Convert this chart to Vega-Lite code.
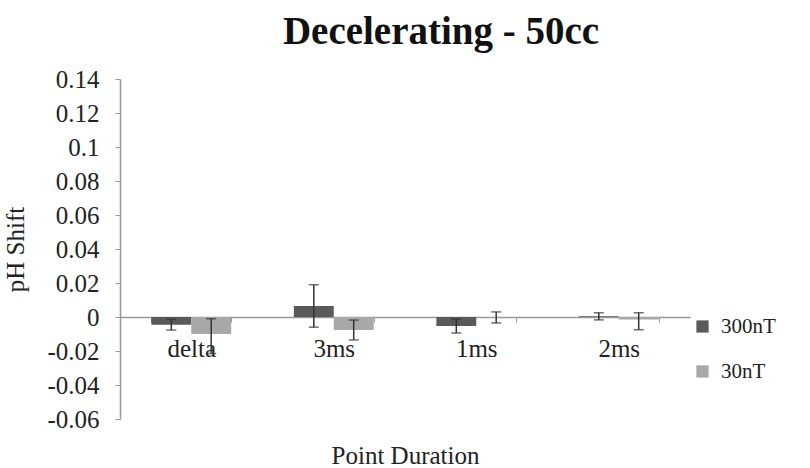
{
  "$schema": "https://vega.github.io/schema/vega-lite/v6.json",
  "autosize": {"type": "none"},
  "padding": {"left": 120, "top": 79, "right": 120, "bottom": 49},
  "width": 570,
  "height": 340,
  "background": "white",
  "title": {
    "text": "Decelerating - 50cc",
    "font": "Liberation Serif",
    "fontSize": 39,
    "fontWeight": "bold",
    "color": "#111",
    "anchor": "middle",
    "dx": 36,
    "offset": 15
  },
  "data": {
    "values": [
      {"cat": "delta", "series": "300nT", "value": -0.0045, "lo": -0.0077, "hi": -0.0013},
      {"cat": "delta", "series": "30nT", "value": -0.0100, "lo": -0.0215, "hi": -0.0010},
      {"cat": "3ms", "series": "300nT", "value": 0.0065, "lo": -0.0060, "hi": 0.0190},
      {"cat": "3ms", "series": "30nT", "value": -0.0076, "lo": -0.0135, "hi": -0.0018},
      {"cat": "1ms", "series": "300nT", "value": -0.0053, "lo": -0.0094, "hi": -0.0012},
      {"cat": "1ms", "series": "30nT", "value": -0.0002, "lo": -0.0035, "hi": 0.0030},
      {"cat": "2ms", "series": "300nT", "value": 0.0005, "lo": -0.0017, "hi": 0.0025},
      {"cat": "2ms", "series": "30nT", "value": -0.0015, "lo": -0.0075, "hi": 0.0025}
    ]
  },
  "encoding": {
    "x": {
      "field": "cat",
      "type": "nominal",
      "sort": ["delta", "3ms", "1ms", "2ms"],
      "scale": {"paddingInner": 0.44, "paddingOuter": 0.22},
      "axis": {
        "title": "Point Duration",
        "titleFont": "Liberation Serif",
        "titleFontSize": 25,
        "titleFontWeight": "normal",
        "titleColor": "#222",
        "titlePadding": 82,
        "labelFont": "Liberation Serif",
        "labelFontSize": 25,
        "labelColor": "#222",
        "labelAngle": 0,
        "labelPadding": 14,
        "labelOverlap": false,
        "offset": -102,
        "domainColor": "#999",
        "domainWidth": 1.5,
        "tickColor": "#999",
        "tickSize": 5,
        "tickBand": "extent"
      }
    },
    "xOffset": {
      "field": "series",
      "type": "nominal",
      "sort": ["300nT", "30nT"],
      "scale": {"domain": ["300nT", "30nT"], "paddingInner": 0, "paddingOuter": 0}
    }
  },
  "layer": [
    {
      "mark": {"type": "bar"},
      "encoding": {
        "y": {
          "field": "value",
          "type": "quantitative",
          "scale": {"domain": [-0.06, 0.14], "nice": false, "zero": false},
          "axis": {
            "title": "pH Shift",
            "titleFont": "Liberation Serif",
            "titleFontSize": 25,
            "titleFontWeight": "normal",
            "titleColor": "#222",
            "titlePadding": 18,
            "labelFont": "Liberation Serif",
            "labelFontSize": 25,
            "labelColor": "#222",
            "labelPadding": 16,
            "labelOverlap": false,
            "labelBound": false,
            "labelFlush": false,
            "values": [-0.06, -0.04, -0.02, 0, 0.02, 0.04, 0.06, 0.08, 0.1, 0.12, 0.14],
            "labelExpr": "replace(format(datum.value, '.2~f'), '\u2212', '-')",
            "grid": false,
            "domainColor": "#999",
            "domainWidth": 1.5,
            "tickColor": "#999",
            "tickSize": 5
          }
        },
        "color": {
          "field": "series",
          "type": "nominal",
          "scale": {"domain": ["300nT", "30nT"], "range": ["#5a5a5a", "#a8a8a8"]},
          "legend": {
            "title": null,
            "orient": "none",
            "legendX": 572,
            "legendY": 237,
            "labelFont": "Liberation Serif",
            "labelFontSize": 21,
            "labelColor": "#222",
            "symbolType": "square",
            "symbolSize": 150,
            "symbolStrokeWidth": 0,
            "rowPadding": 23,
            "labelOffset": 8
          }
        }
      }
    },
    {
      "mark": {"type": "rule", "color": "#333", "strokeWidth": 1.5},
      "encoding": {
        "y": {
          "field": "lo",
          "type": "quantitative",
          "axis": {
            "title": "pH Shift",
            "titleFont": "Liberation Serif",
            "titleFontSize": 25,
            "titleFontWeight": "normal",
            "titleColor": "#222",
            "titlePadding": 18,
            "labelFont": "Liberation Serif",
            "labelFontSize": 25,
            "labelColor": "#222",
            "labelPadding": 16,
            "labelOverlap": false,
            "labelBound": false,
            "labelFlush": false,
            "values": [-0.06, -0.04, -0.02, 0, 0.02, 0.04, 0.06, 0.08, 0.1, 0.12, 0.14],
            "labelExpr": "replace(format(datum.value, '.2~f'), '\u2212', '-')",
            "grid": false,
            "domainColor": "#999",
            "domainWidth": 1.5,
            "tickColor": "#999",
            "tickSize": 5
          }
        },
        "y2": {"field": "hi"}
      }
    },
    {
      "mark": {"type": "tick", "color": "#333", "thickness": 1.5, "size": 10},
      "encoding": {
        "y": {
          "field": "lo",
          "type": "quantitative",
          "axis": {
            "title": "pH Shift",
            "titleFont": "Liberation Serif",
            "titleFontSize": 25,
            "titleFontWeight": "normal",
            "titleColor": "#222",
            "titlePadding": 18,
            "labelFont": "Liberation Serif",
            "labelFontSize": 25,
            "labelColor": "#222",
            "labelPadding": 16,
            "labelOverlap": false,
            "labelBound": false,
            "labelFlush": false,
            "values": [-0.06, -0.04, -0.02, 0, 0.02, 0.04, 0.06, 0.08, 0.1, 0.12, 0.14],
            "labelExpr": "replace(format(datum.value, '.2~f'), '\u2212', '-')",
            "grid": false,
            "domainColor": "#999",
            "domainWidth": 1.5,
            "tickColor": "#999",
            "tickSize": 5
          }
        }
      }
    },
    {
      "mark": {"type": "tick", "color": "#333", "thickness": 1.5, "size": 10},
      "encoding": {
        "y": {
          "field": "hi",
          "type": "quantitative",
          "axis": {
            "title": "pH Shift",
            "titleFont": "Liberation Serif",
            "titleFontSize": 25,
            "titleFontWeight": "normal",
            "titleColor": "#222",
            "titlePadding": 18,
            "labelFont": "Liberation Serif",
            "labelFontSize": 25,
            "labelColor": "#222",
            "labelPadding": 16,
            "labelOverlap": false,
            "labelBound": false,
            "labelFlush": false,
            "values": [-0.06, -0.04, -0.02, 0, 0.02, 0.04, 0.06, 0.08, 0.1, 0.12, 0.14],
            "labelExpr": "replace(format(datum.value, '.2~f'), '\u2212', '-')",
            "grid": false,
            "domainColor": "#999",
            "domainWidth": 1.5,
            "tickColor": "#999",
            "tickSize": 5
          }
        }
      }
    }
  ],
  "config": {
    "view": {"stroke": null},
    "axis": {"labelOverlap": false}
  }
}
